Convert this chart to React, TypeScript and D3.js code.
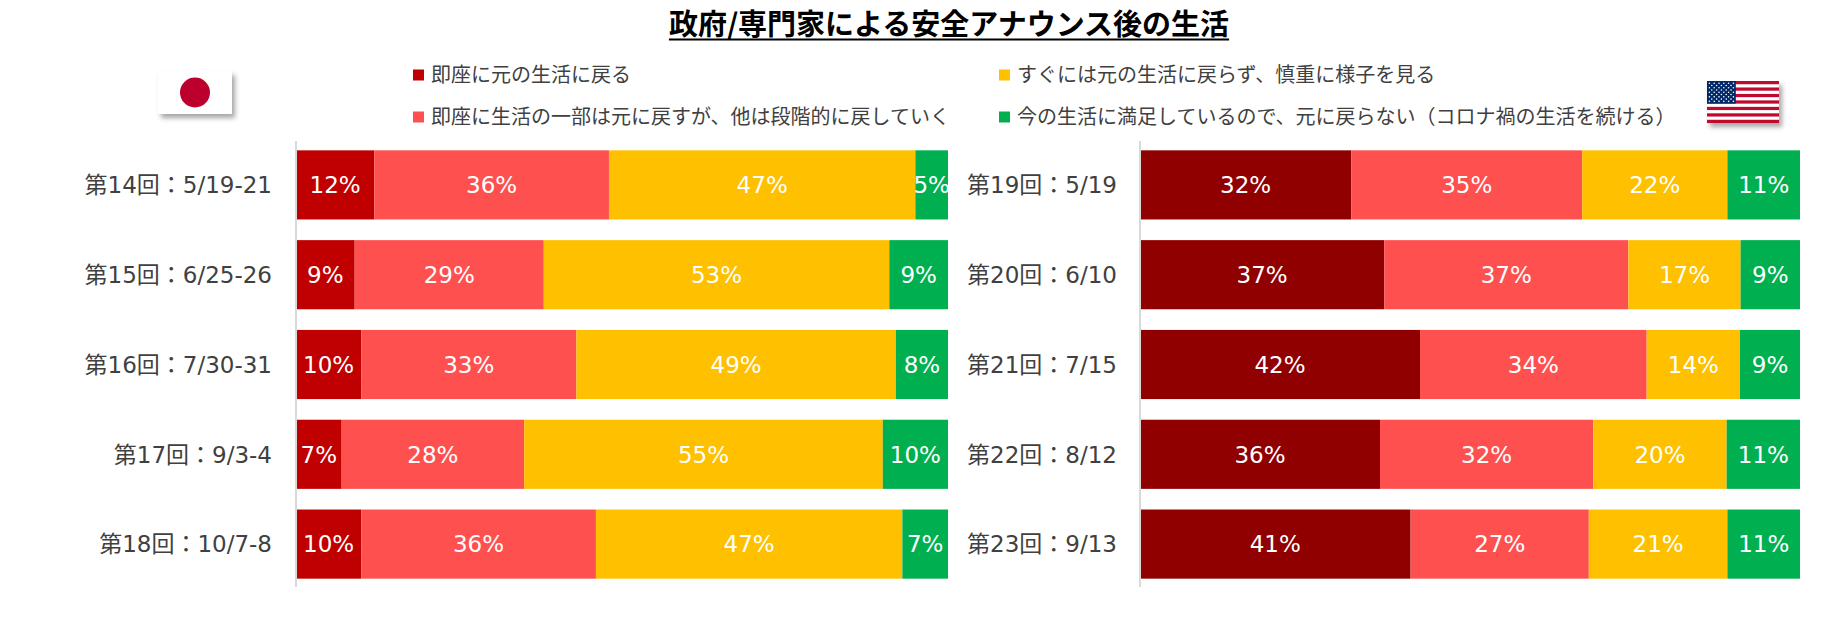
import * as d3 from "d3";
import { useEffect, useRef } from "react";

const W = 1821;
const H = 618;

const seriesNames = [
  "即座に元の生活に戻る",
  "即座に生活の一部は元に戻すが、他は段階的に戻していく",
  "すぐには元の生活に戻らず、慎重に様子を見る",
  "今の生活に満足しているので、元に戻らない（コロナ禍の生活を続ける）",
];
const keys = ["a", "b", "c", "d"];

const jpRounds = ["第14回：5/19-21", "第15回：6/25-26", "第16回：7/30-31", "第17回：9/3-4", "第18回：10/7-8"];
const jpA = [12, 9, 10, 7, 10];
const jpB = [36, 29, 33, 28, 36];
const jpC = [47, 53, 49, 55, 47];
const jpD = [5, 9, 8, 10, 7];

const usRounds = ["第19回：5/19", "第20回：6/10", "第21回：7/15", "第22回：8/12", "第23回：9/13"];
const usA = [32, 37, 42, 36, 41];
const usB = [35, 37, 34, 32, 27];
const usC = [22, 17, 14, 20, 21];
const usD = [11, 9, 9, 11, 11];

const jpColors = ["#C00000", "#FF5050", "#FFC000", "#00B050"];
const usColors = ["#900000", "#FF5050", "#FFC000", "#00B050"];

const FONT = "'Noto Sans CJK JP', 'Noto Sans', sans-serif";
const NUM_FONT = "'DejaVu Sans', 'Noto Sans CJK JP', sans-serif";

type Row = { cat: string; a: number; b: number; c: number; d: number };

function rows(cats: string[], a: number[], b: number[], c: number[], d: number[]): Row[] {
  return cats.map((cat, i) => ({ cat, a: a[i], b: b[i], c: c[i], d: d[i] }));
}

export default function App() {
  const svgRef = useRef<SVGSVGElement>(null);

  useEffect(() => {
    if (!svgRef.current) return;
    const svg = d3.select(svgRef.current);
    svg.selectAll("*").remove();

    const defs = svg.append("defs");
    defs
      .append("filter")
      .attr("id", "flag-shadow")
      .attr("x", "-20%")
      .attr("y", "-20%")
      .attr("width", "150%")
      .attr("height", "160%")
      .append("feDropShadow")
      .attr("dx", 3)
      .attr("dy", 4)
      .attr("stdDeviation", 2.5)
      .attr("flood-color", "#000")
      .attr("flood-opacity", 0.35);

    // Title
    const title = svg
      .append("text")
      .attr("x", 949)
      .attr("y", 35)
      .attr("text-anchor", "middle")
      .style("font-family", FONT)
      .style("font-size", "29px")
      .style("font-weight", "bold")
      .style("fill", "#000")
      .text("政府/専門家による安全アナウンス後の生活");
    const tb = (title.node() as SVGTextElement).getBBox();
    svg
      .append("line")
      .attr("x1", tb.x)
      .attr("x2", tb.x + tb.width)
      .attr("y1", 39.5)
      .attr("y2", 39.5)
      .style("stroke", "#000")
      .style("stroke-width", 2);

    // Legend
    const legendPos = [
      { x: 413, y: 75 },
      { x: 413, y: 117 },
      { x: 999, y: 75 },
      { x: 999, y: 117 },
    ];
    const legend = svg
      .append("g")
      .selectAll("g")
      .data(seriesNames)
      .enter()
      .append("g")
      .attr("transform", (_, i) => `translate(${legendPos[i].x},${legendPos[i].y})`);
    legend
      .append("rect")
      .attr("x", 0)
      .attr("y", -5.5)
      .attr("width", 11)
      .attr("height", 11)
      .style("fill", (_, i) => jpColors[i]);
    legend
      .append("text")
      .attr("x", 18)
      .attr("y", 0)
      .attr("dy", "0.36em")
      .style("font-family", FONT)
      .style("font-size", "20px")
      .style("fill", "#404040")
      .text((d) => d);

    // Flags
    const jp = svg.append("g").attr("transform", "translate(158,71)");
    jp.append("rect")
      .attr("width", 74)
      .attr("height", 43)
      .style("fill", "#fff")
      .attr("filter", "url(#flag-shadow)");
    jp.append("circle").attr("cx", 37).attr("cy", 21.5).attr("r", 15).style("fill", "#BC002D");

    const fw = 72;
    const fh = 42;
    const us = svg.append("g").attr("transform", "translate(1707,81)");
    us.append("rect").attr("width", fw).attr("height", fh).style("fill", "#fff").attr("filter", "url(#flag-shadow)");
    const stripe = d3.scaleBand<number>().domain(d3.range(13)).range([0, fh]);
    us.selectAll(".stripe")
      .data(d3.range(13).filter((i) => i % 2 === 0))
      .enter()
      .append("rect")
      .attr("x", 0)
      .attr("y", (i) => stripe(i)!)
      .attr("width", fw)
      .attr("height", stripe.bandwidth())
      .style("fill", "#BF0A30");
    const cantonW = fw * 0.4;
    const cantonH = stripe(7)!;
    us.append("rect").attr("width", cantonW).attr("height", cantonH).style("fill", "#002868");
    const stars: [number, number][] = [];
    for (let r = 0; r < 9; r++) {
      const n = r % 2 === 0 ? 6 : 5;
      for (let c = 0; c < n; c++) stars.push([r, r % 2 === 0 ? c * 2 : c * 2 + 1]);
    }
    us.selectAll(".star")
      .data(stars)
      .enter()
      .append("circle")
      .attr("cx", (d) => ((d[1] + 1) * cantonW) / 12)
      .attr("cy", (d) => ((d[0] + 1) * cantonH) / 10)
      .attr("r", 0.8)
      .style("fill", "#fff");

    // Panels
    const drawPanel = (data: Row[], colors: string[], x0: number, x1: number, labelX: number) => {
      const y = d3
        .scaleBand()
        .domain(data.map((d) => d.cat))
        .range([140, 589])
        .paddingInner(0.23)
        .paddingOuter(0.115);
      const x = d3.scaleLinear().domain([0, 1]).range([x0, x1]);
      const stack = d3.stack<Row>().keys(keys).offset(d3.stackOffsetExpand)(data);

      const g = svg.append("g");
      const layers = g
        .selectAll(".layer")
        .data(stack)
        .enter()
        .append("g")
        .style("fill", (_, i) => colors[i]);
      layers
        .selectAll("rect")
        .data((s) => s)
        .enter()
        .append("rect")
        .attr("x", (d) => x(d[0]))
        .attr("y", (d) => y(d.data.cat)!)
        .attr("width", (d) => x(d[1]) - x(d[0]))
        .attr("height", y.bandwidth());

      layers
        .selectAll("text")
        .data((s) => s.map((d) => ({ d, key: s.key })))
        .enter()
        .append("text")
        .attr("x", ({ d }) => (x(d[0]) + x(d[1])) / 2)
        .attr("y", ({ d }) => y(d.data.cat)! + y.bandwidth() / 2)
        .attr("dy", "0.36em")
        .attr("text-anchor", "middle")
        .style("font-family", NUM_FONT)
        .style("font-size", "23px")
        .style("fill", "#fff")
        .text(({ d, key }) => `${(d.data as any)[key]}%`);

      g.append("line")
        .attr("x1", x0)
        .attr("x2", x0)
        .attr("y1", 141)
        .attr("y2", 587)
        .style("stroke", "#d9d9d9")
        .style("stroke-width", 2);

      g.selectAll(".cat")
        .data(data)
        .enter()
        .append("text")
        .attr("x", labelX)
        .attr("y", (d) => y(d.cat)! + y.bandwidth() / 2)
        .attr("dy", "0.36em")
        .attr("text-anchor", "end")
        .style("font-family", NUM_FONT)
        .style("font-size", "23px")
        .style("fill", "#404040")
        .text((d) => d.cat);
    };

    drawPanel(rows(jpRounds, jpA, jpB, jpC, jpD), jpColors, 296, 948, 272);
    drawPanel(rows(usRounds, usA, usB, usC, usD), usColors, 1140, 1800, 1117);
  }, []);

  return (
    <svg
      ref={svgRef}
      width={W}
      height={H}
      style={{ position: "absolute", left: 0, top: 0, background: "#fff" }}
    />
  );
}
